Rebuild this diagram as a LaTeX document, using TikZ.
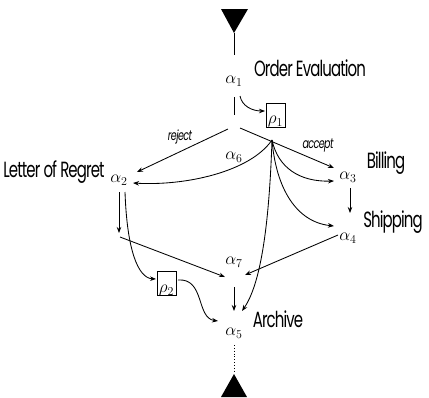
\documentclass[tikz,border=0pt]{standalone}
\usepackage{fontspec}
\setmainfont{Poppins}[FakeStretch=0.68, LetterSpace=-4]
\usetikzlibrary{arrows.meta}
\begin{document}
\begin{tikzpicture}[x=1pt,y=-1pt,
  flow/.style={line width=0.85pt, -{Stealth[length=6pt,width=4.5pt]}},
  plain/.style={line width=0.85pt},
  act/.style={inner sep=0pt, font=\fontsize{18}{18}\selectfont},
  actname/.style={inner sep=0pt, font=\fontsize{22}{22}\selectfont},
  branch/.style={inner sep=0pt, font=\fontsize{14}{14}\selectfont\itshape},
  res/.style={draw, line width=0.8pt, minimum width=19pt, minimum height=24pt, inner sep=0pt}]
\useasboundingbox (0,0) rectangle (429,397);

% start and end markers
\fill (221,9) -- (248,9) -- (234,33) coordinate (startTip) -- cycle;
\coordinate (startEnd) at (234,55);
\draw[plain] (startTip) -- (startEnd);
\fill (221,397) -- (247,397) -- (234,374) coordinate (endTip) -- cycle;

% activities
\node[act] (a1) at (234,81) {$\alpha_1$};
\node[act] (a2) at (119,180) {$\alpha_2$};
\node[act] (a6) at (234,157) {$\alpha_6$};
\node[act] (a3) at (348,177) {$\alpha_3$};
\node[act] (a4) at (348,238) {$\alpha_4$};
\node[act] (a7) at (234,262) {$\alpha_7$};
\node[act] (a5) at (234,333) {$\alpha_5$};

% activity names
\node[actname] (nOrder) at (310,68) {Order Evaluation};
\node[actname] (nRegret) at (54,172) {Letter of Regret};
\node[actname] (nBill) at (386,163) {Billing};
\node[actname] (nShip) at (393,222) {Shipping};
\node[actname] (nArch) at (278,319) {Archive};

% resources
\node[res] (r1) at (275.5,115) {};
\node[act, anchor=south] (r1t) at (275.5,127) {$\rho_1$};
\node[res] (r2) at (166.5,283.5) {};
\node[act, anchor=south] (r2t) at (166.5,296) {$\rho_2$};

% branch points
\coordinate (s1top) at (234,97);
\coordinate (s1bot) at (234,115);
\coordinate (rejFrom) at (228,129);
\coordinate (accFrom) at (240,128);
\coordinate (rejTo) at (137,172);
\coordinate (accTo) at (334,168);
\coordinate (hub) at (272,140);
\coordinate (a1out) at (240,96);
\coordinate (r1in) at (265,111);
\coordinate (a2in) at (133,183);
\coordinate (a3in) at (334,181);
\coordinate (a4in) at (334,226);
\coordinate (a5inR) at (242,311);
\coordinate (a5inL) at (218,321);
\coordinate (a2down) at (119,192);
\coordinate (a2stop) at (119,233);
\coordinate (a2line) at (120,237);
\coordinate (a7inL) at (225,277);
\coordinate (a7inR) at (245,275);
\coordinate (a2curve) at (125,192);
\coordinate (r2in) at (156,279);
\coordinate (r2out) at (178,280);
\coordinate (a3down) at (350,188);
\coordinate (a4top) at (350,213);
\coordinate (a4out) at (338,235);
\coordinate (a7down) at (234,287);
\coordinate (a7stop) at (234,311);
\coordinate (a5down) at (234,345);
\coordinate (a5stop) at (234,372);

% control flow
\draw[plain] (s1top) -- (s1bot);
\draw[flow] (a1out) .. controls (242,106) and (252,111) .. (r1in);
\draw[flow] (rejFrom) -- (rejTo);
\node[branch] (lRej) at (180,137) {reject};
\draw[flow] (accFrom) -- (accTo);
\node[branch] (lAcc) at (318,146) {accept};
\draw[flow] (hub) .. controls (250,172) and (185,186) .. (a2in);
\draw[flow] (hub) .. controls (278,168) and (300,182) .. (a3in);
\draw[flow] (hub) .. controls (276,188) and (296,222) .. (a4in);
\draw[flow] (hub) .. controls (269,230) and (260,285) .. (a5inR);
\draw[flow] (a3down) -- (a4top);
\draw[flow] (a4out) -- (a7inR);
\draw[flow] (a2down) -- (a2stop);
\draw[flow] (a2line) -- (a7inL);
\draw[flow] (a2curve) .. controls (127,250) and (138,278) .. (r2in);
\draw[flow] (r2out) .. controls (205,278) and (196,318) .. (a5inL);
\draw[flow] (a7down) -- (a7stop);
\draw[plain, dotted] (a5down) -- (a5stop);
\end{tikzpicture}
\end{document}
